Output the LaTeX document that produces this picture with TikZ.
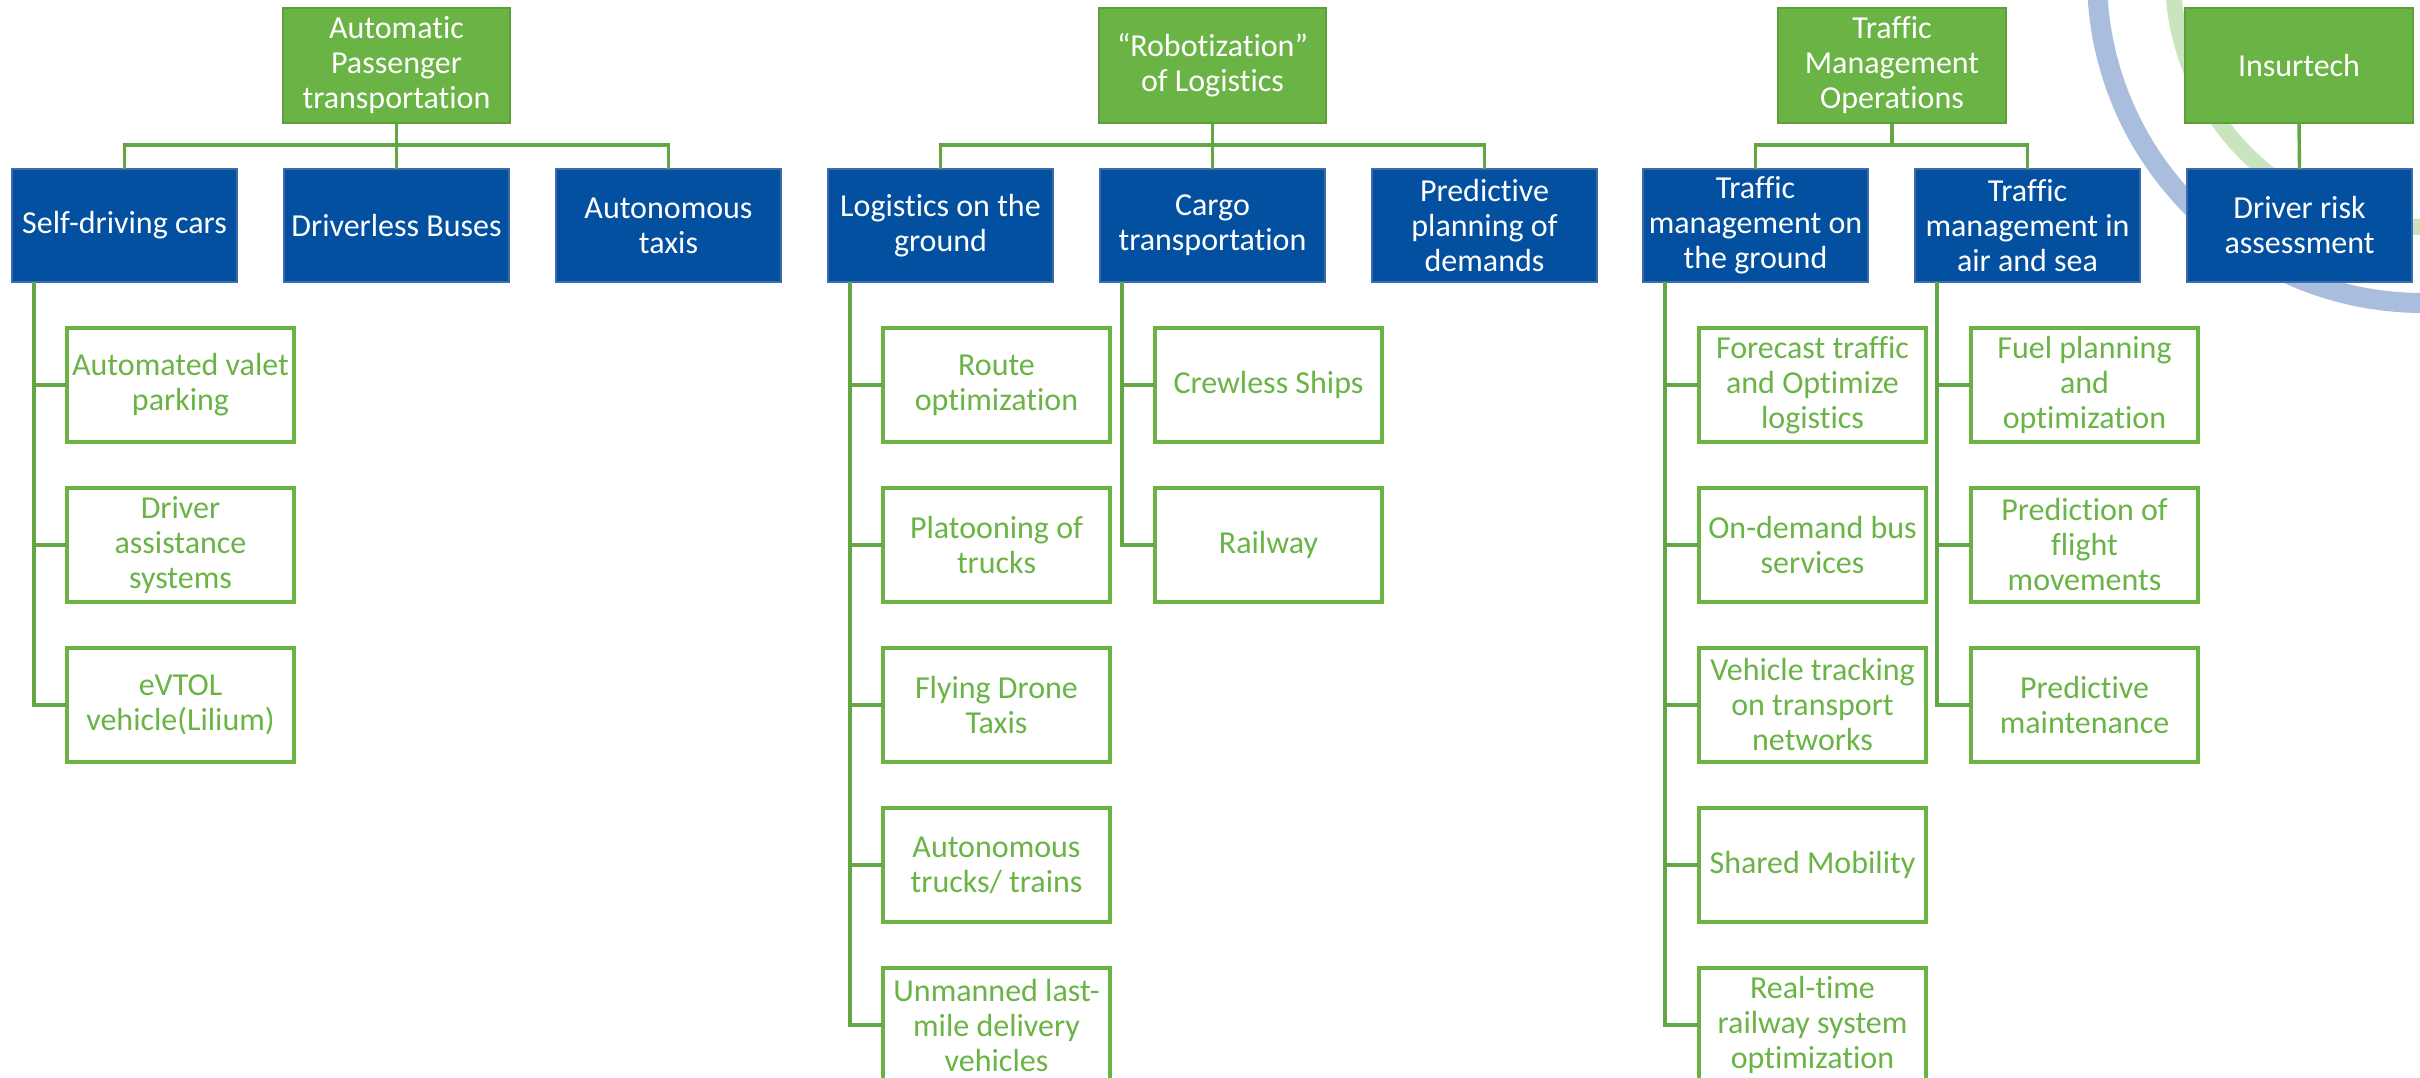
\documentclass[tikz,border=0pt]{standalone}
\usepackage{fontspec}
\setmainfont{Carlito}[RawFeature={-liga;-clig;-calt;-dlig}]
\definecolor{gfill}{HTML}{6AB445}
\definecolor{gedge}{HTML}{5E9F3C}
\definecolor{bfill}{HTML}{0450A0}
\definecolor{bedge}{HTML}{3D6CAE}
\definecolor{leafgreen}{HTML}{6AB445}
\definecolor{connc}{HTML}{64A644}
\definecolor{ringblue}{HTML}{A9BEDF}
\definecolor{ringgreen}{HTML}{C9E5BF}
\tikzset{
  base/.style={anchor=north west, align=center, inner sep=0pt, outer sep=0pt,
    font=\fontsize{32}{35}\selectfont},
  topbox/.style={base, draw=gedge, line width=2.8pt, fill=gfill, text=white,
    minimum width=227pt, minimum height=115pt},
  midbox/.style={base, draw=bedge, line width=1.2pt, fill=bfill, text=white,
    minimum width=225pt, minimum height=113pt},
  leafbox/.style={base, draw=leafgreen, line width=3.2pt, fill=white, text=leafgreen,
    minimum width=227pt, minimum height=114pt},
  conn/.style={draw=connc, line width=3.4pt}
}
\begin{document}
\begin{tikzpicture}[x=1pt, y=-1pt]
\useasboundingbox (0,0) rectangle (2420,1078);
\clip (0,0) rectangle (2420,1078);
\fill[white] (0,0) rectangle (2420,1078);

% decorative rings in the upper right corner
\draw[ringblue, line width=20pt] (2423,-23) circle[radius=326pt];
\draw[ringgreen, line width=16pt] (2423,-23) circle[radius=250pt];

% ---- Automatic passenger transportation ----
\node[topbox] (apt) at (283,8) {Automatic\\Passenger\\transportation};
\node[midbox] (sdc) at (12,169) {Self-driving cars};
\node[midbox] (dbus) at (284,169) {Driverless Buses};
\node[midbox] (ataxi) at (556,169) {Autonomous\\taxis};
\node[leafbox] (valet) at (67,328) {Automated valet\\parking};
\node[leafbox] (dassist) at (67,488) {Driver\\assistance\\systems};
\node[leafbox] (evtol) at (67,648) {eVTOL\\vehicle(Lilium)};

% ---- Robotization of logistics ----
\node[topbox] (robo) at (1099,8) {“Robotization”\\of Logistics};
\node[midbox] (lground) at (828,169) {Logistics on the\\ground};
\node[midbox] (cargo) at (1100,169) {Cargo\\transportation};
\node[midbox] (pplan) at (1372,169) {Predictive\\planning of\\demands};
\node[leafbox] (route) at (883,328) {Route\\optimization};
\node[leafbox] (platoon) at (883,488) {Platooning of\\trucks};
\node[leafbox] (drone) at (883,648) {Flying Drone\\Taxis};
\node[leafbox] (atrucks) at (883,808) {Autonomous\\trucks/ trains};
\node[leafbox] (unmanned) at (883,968) {Unmanned last-\\mile delivery\\vehicles};
\node[leafbox] (crew) at (1155,328) {Crewless Ships};
\node[leafbox] (rail) at (1155,488) {Railway};

% ---- Traffic management operations ----
\node[topbox, minimum width=228pt] (tmo) at (1778,8) {Traffic\\Management\\Operations};
\node[midbox] (tground) at (1643,169) {Traffic\\management on\\the ground};
\node[midbox] (tair) at (1915,169) {Traffic\\management in\\air and sea};
\node[leafbox] (forecast) at (1699,328) {Forecast traffic\\and Optimize\\logistics};
\node[leafbox] (ondemand) at (1699,488) {On-demand bus\\services};
\node[leafbox] (vtrack) at (1699,648) {Vehicle tracking\\on transport\\networks};
\node[leafbox] (shared) at (1699,808) {Shared Mobility};
\node[leafbox] (realtime) at (1699,968) {Real-time\\railway system\\optimization};
\node[leafbox] (fuel) at (1971,328) {Fuel planning\\and\\optimization};
\node[leafbox] (flight) at (1971,488) {Prediction of\\flight\\movements};
\node[leafbox] (pmaint) at (1971,648) {Predictive\\maintenance};

% ---- Insurtech ----
\node[topbox, minimum width=228pt] (insur) at (2185,8) {Insurtech};
\node[midbox] (drisk) at (2187,169) {Driver risk\\assessment};

% ---- connectors: top level to second level ----
\foreach \p/\c in {apt/sdc, apt/dbus, apt/ataxi,
                   robo/lground, robo/cargo, robo/pplan,
                   tmo/tground, tmo/tair}
  \draw[conn] (\p.south) -- ++(0,22) -| (\c.north);
\draw[conn] (insur.south) -- (drisk.north);

% ---- connectors: second level to leaves ----
\foreach \p/\c in {sdc/valet, sdc/dassist, sdc/evtol,
                   lground/route, lground/platoon, lground/drone, lground/atrucks, lground/unmanned,
                   cargo/crew, cargo/rail,
                   tground/forecast, tground/ondemand, tground/vtrack, tground/shared, tground/realtime,
                   tair/fuel, tair/flight, tair/pmaint}
  \draw[conn] ([xshift=22pt]\p.south west) |- (\c.west);
\end{tikzpicture}
\end{document}
